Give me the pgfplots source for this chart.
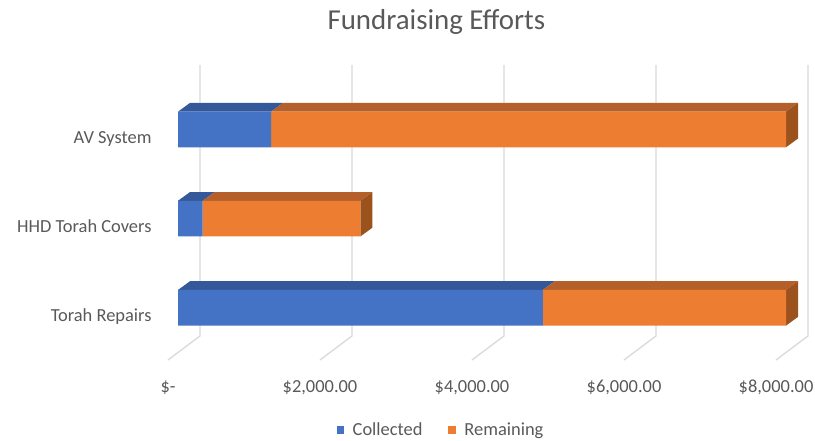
\documentclass[border=0pt]{standalone}
\usepackage{fontspec}
\setmainfont{Carlito}
\usepackage{pgfplots}
\pgfplotsset{compat=1.18}
\definecolor{cblue}{HTML}{4472C4}
\definecolor{corange}{HTML}{ED7D31}
\definecolor{cbluetop}{HTML}{34589A}
\definecolor{corangetop}{HTML}{B5602A}
\definecolor{corangeside}{HTML}{9C521D}
\definecolor{cgrid}{HTML}{D9D9D9}
\definecolor{ctext}{HTML}{595959}
\newcommand{\lblfont}{\fontsize{18.5}{22}\selectfont}
\begin{document}
\begin{tikzpicture}
\useasboundingbox (-178bp,-81bp) rectangle (637bp,360bp);
\pgfplotsset{base/.style={at={(0,0)}, anchor=south west, scale only axis,
  width=608bp, height=300bp, xmin=0, xmax=8000, ymin=-0.5855, ymax=2.779, clip=false}}
% background: gridlines, 3D faces, labels, title
\begin{axis}[base,
  axis line style={draw=none}, major tick length=0pt,
  xtick={0,2000,4000,6000,8000},
  xticklabels={{\$-\hspace{5bp}},{\$2,000.00},{\$4,000.00},{\$6,000.00},{\$8,000.00}},
  xticklabel style={anchor=base, inner sep=0pt, xshift=-10bp, yshift=-32bp, font=\lblfont, text=ctext},
  ytick={0,1,2},
  yticklabels={Torah Repairs,HHD Torah Covers,AV System},
  yticklabel style={anchor=base east, inner sep=0pt, xshift=-26.3bp, yshift=-13.8bp, font=\lblfont, text=ctext},
  title={Fundraising Efforts},
  title style={at={(0.425,1.083)}, anchor=base, inner sep=0pt, font=\fontsize{29}{34}\selectfont, text=ctext},
]
% gridlines (back wall + floor diagonals)
\addplot[cgrid, line width=1.3bp] coordinates {(-131.6,-0.5855) (289.5,-0.316) (289.5,2.723)};
\addplot[cgrid, line width=1.3bp] coordinates {(1868.4,-0.5855) (2289.5,-0.316) (2289.5,2.723)};
\addplot[cgrid, line width=1.3bp] coordinates {(3868.4,-0.5855) (4289.5,-0.316) (4289.5,2.723)};
\addplot[cgrid, line width=1.3bp] coordinates {(5868.4,-0.5855) (6289.5,-0.316) (6289.5,2.723)};
\addplot[cgrid, line width=1.3bp] coordinates {(7868.4,-0.5855) (8289.5,-0.316) (8289.5,2.723)};
% top faces
\addplot[fill=cbluetop, draw=none] coordinates {(0,2.2) (158,2.298) (1383,2.298) (1225,2.2)} -- cycle;
\addplot[fill=corangetop, draw=none] coordinates {(1225,2.2) (1383,2.298) (8158,2.298) (8000,2.2)} -- cycle;
\addplot[fill=cbluetop, draw=none] coordinates {(0,1.2) (158,1.298) (483,1.298) (325,1.2)} -- cycle;
\addplot[fill=corangetop, draw=none] coordinates {(325,1.2) (483,1.298) (2558,1.298) (2400,1.2)} -- cycle;
\addplot[fill=cbluetop, draw=none] coordinates {(0,0.2) (158,0.298) (4958,0.298) (4800,0.2)} -- cycle;
\addplot[fill=corangetop, draw=none] coordinates {(4800,0.2) (4958,0.298) (8158,0.298) (8000,0.2)} -- cycle;
% side faces
\addplot[fill=corangeside, draw=none] coordinates {(8000,2.2) (8158,2.298) (8158,1.898) (8000,1.8)} -- cycle;
\addplot[fill=corangeside, draw=none] coordinates {(2400,1.2) (2558,1.298) (2558,0.898) (2400,0.8)} -- cycle;
\addplot[fill=corangeside, draw=none] coordinates {(8000,0.2) (8158,0.298) (8158,-0.102) (8000,-0.2)} -- cycle;
\end{axis}
% front faces of the stacked bars + legend
\begin{axis}[base, hide axis, xbar stacked, bar width=0.4,
  legend columns=2,
  legend style={at={(0.4326,-0.2333)}, anchor=center, draw=none, fill=none,
    font=\lblfont, text=ctext,
    /tikz/every even column/.append style={column sep=24bp}},
  legend image code/.code={\fill[#1] (0bp,-3.8bp) rectangle (7.5bp,3.8bp); \path (0bp,0bp) (14bp,0bp);},
]
\addplot[fill=cblue, draw=none] coordinates {(1225,2) (325,1) (4800,0)};
\addlegendentry{Collected}
\addplot[fill=corange, draw=none] coordinates {(6775,2) (2075,1) (3200,0)};
\addlegendentry{Remaining}
\end{axis}
\end{tikzpicture}
\end{document}
